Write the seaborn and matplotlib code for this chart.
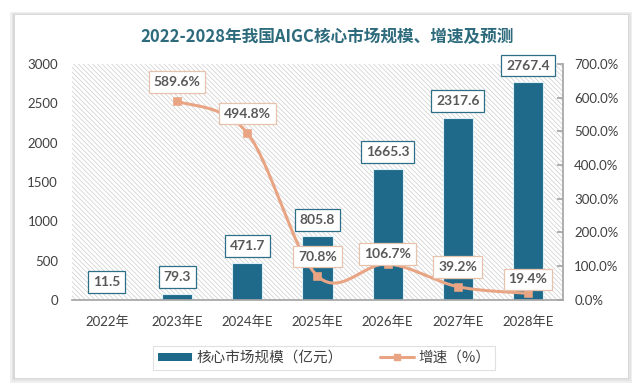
import numpy as np
import pandas as pd
import matplotlib
matplotlib.use("Agg")
import matplotlib.pyplot as plt
import seaborn as sns
from matplotlib.patches import Rectangle
from matplotlib.lines import Line2D
from matplotlib.ticker import FuncFormatter

# =========================
# Data
# =========================
years = ["2022年", "2023年E", "2024年E", "2025年E", "2026年E", "2027年E", "2028年E"]
market_size = [11.5, 79.3, 471.7, 805.8, 1665.3, 2317.6, 2767.4]
growth_years = ["2023年E", "2024年E", "2025年E", "2026年E", "2027年E", "2028年E"]
growth_rate = [589.6, 494.8, 70.8, 106.7, 39.2, 19.4]

title = "2022-2028年我国AIGC核心市场规模、增速及预测"
bar_label = "核心市场规模（亿元）"
line_label = "增速（%）"

bar_color = "#1F6A8A"
line_color = "#E9A483"
text_gray = "#595959"

sns.set_theme(style="white")
plt.rcParams["font.family"] = ["Lato", "Noto Sans CJK SC", "DejaVu Sans"]
plt.rcParams["hatch.linewidth"] = 0.5
plt.rcParams["hatch.color"] = "#CDCDCD"

df = pd.DataFrame({"year": years, "size": market_size})

fig = plt.figure(figsize=(6.42, 3.92), dpi=100)
fig.patch.set_facecolor("white")

# card with soft shadow
for i, c in enumerate(["#EFEFEF", "#E4E4E4", "#D8D8D8"]):
    d = (3 - i) * 0.004
    fig.patches.append(Rectangle((0.023 - d * 0.6, 0.036 - d), 0.955 + d * 1.2, 0.926 + d * 1.6,
                                 transform=fig.transFigure, fc=c, ec="none", zorder=-20))
fig.patches.append(Rectangle((0.023, 0.036), 0.955, 0.926, transform=fig.transFigure,
                             fc="white", ec="none", zorder=-10))

ax = fig.add_axes([0.112, 0.235, 0.765, 0.602])
ax.set_facecolor("none")
ax.add_patch(Rectangle((0, 0), 1, 1, transform=ax.transAxes, fc="white",
                       hatch="\\" * 7, ec="#CDCDCD", lw=0, zorder=-5))

# =========================
# Bars
# =========================
sns.barplot(data=df, x="year", y="size", color=bar_color, width=0.43,
            edgecolor="#DCEFF6", linewidth=0.8, saturation=1, ax=ax, zorder=2)
ax.set_ylim(0, 3000)
ax.set_xlim(-0.5, len(years) - 0.5)
ax.set_yticks(range(0, 3001, 500))
ax.set_xlabel("")
ax.set_ylabel("")
for s in ["left", "top", "right"]:
    ax.spines[s].set_visible(False)
ax.spines["bottom"].set_color("#A6A6A6")
ax.tick_params(axis="y", length=0, pad=10, labelsize=9.5, labelcolor="#404040")
ax.tick_params(axis="x", length=0, pad=11, labelsize=9.5, labelcolor="#404040")

for i, v in enumerate(market_size):
    ax.annotate(f"{v:.1f}", (i, v), xytext=(0, 12), textcoords="offset points",
                ha="center", va="center", fontsize=10, fontweight="bold", color=text_gray,
                bbox=dict(boxstyle="square,pad=0.35", fc="white", ec="#2C6F86", lw=0.9),
                zorder=6)

# =========================
# Growth line (smooth like excel)
# =========================
ax2 = ax.twinx()
gx = np.array([years.index(y) for y in growth_years], dtype=float)
gy = np.array(growth_rate)

def catmull_rom(x, y, n=30):
    pts = np.column_stack([x, y])
    out = []
    for i in range(len(pts) - 1):
        p0 = pts[i - 1] if i > 0 else pts[i]
        p1, p2 = pts[i], pts[i + 1]
        p3 = pts[i + 2] if i + 2 < len(pts) else pts[i + 1]
        t = np.linspace(0, 1, n)[:, None]
        seg = 0.5 * ((2 * p1) + (-p0 + p2) * t + (2 * p0 - 5 * p1 + 4 * p2 - p3) * t ** 2
                     + (-p0 + 3 * p1 - 3 * p2 + p3) * t ** 3)
        out.append(seg)
    return np.vstack(out)

curve = catmull_rom(gx, gy)
ax2.plot(curve[:, 0], curve[:, 1], color=line_color, lw=2.2, zorder=3)
sns.scatterplot(x=gx, y=gy, marker="s", s=30, color=line_color, edgecolor=line_color,
                ax=ax2, zorder=4)
ax2.set_ylim(0, 700)
ax2.set_yticks(range(0, 701, 100))
ax2.yaxis.set_major_formatter(FuncFormatter(lambda v, p: f"{v:.1f}%"))
for s in ["left", "top", "bottom"]:
    ax2.spines[s].set_visible(False)
ax2.spines["right"].set_color("#A6A6A6")
ax2.tick_params(axis="y", direction="in", length=4, color="#A6A6A6", pad=8,
                labelsize=9.5, labelcolor="#404040")

offsets = [14, 14, 14, 7, 14, 10]
for x, v, o in zip(gx, gy, offsets):
    ax2.annotate(f"{v:.1f}%", (x, v), xytext=(0, o), textcoords="offset points",
                 ha="center", va="center", fontsize=10, fontweight="bold", color=text_gray,
                 bbox=dict(boxstyle="square,pad=0.35", fc="white", ec="#E7C3AE", lw=0.9),
                 zorder=6)

# =========================
# Title & legend
# =========================
fig.text(0.51, 0.905, title, ha="center", va="center", fontsize=12, fontweight="bold",
         color="#2D6B7C", family=["Noto Sans CJK SC", "DejaVu Sans"])

handles = [Rectangle((0, 0), 1, 1, fc=bar_color, ec="none"),
           Line2D([], [], color=line_color, lw=2.2, marker="s", markersize=5)]
leg = fig.legend(handles, [bar_label, line_label], loc="center",
                 bbox_to_anchor=(0.505, 0.087), ncol=2, frameon=True, fancybox=False,
                 handlelength=2.3, handleheight=0.5, handletextpad=0.3, columnspacing=2.6,
                 borderpad=0.35, borderaxespad=0,
                 prop={"family": ["Noto Sans CJK SC", "DejaVu Sans"], "size": 10.5})
leg.get_frame().set_edgecolor("#D9D9D9")
leg.get_frame().set_linewidth(0.8)
for t in leg.get_texts():
    t.set_color("#404040")

fig.savefig("out.png", dpi=100)
